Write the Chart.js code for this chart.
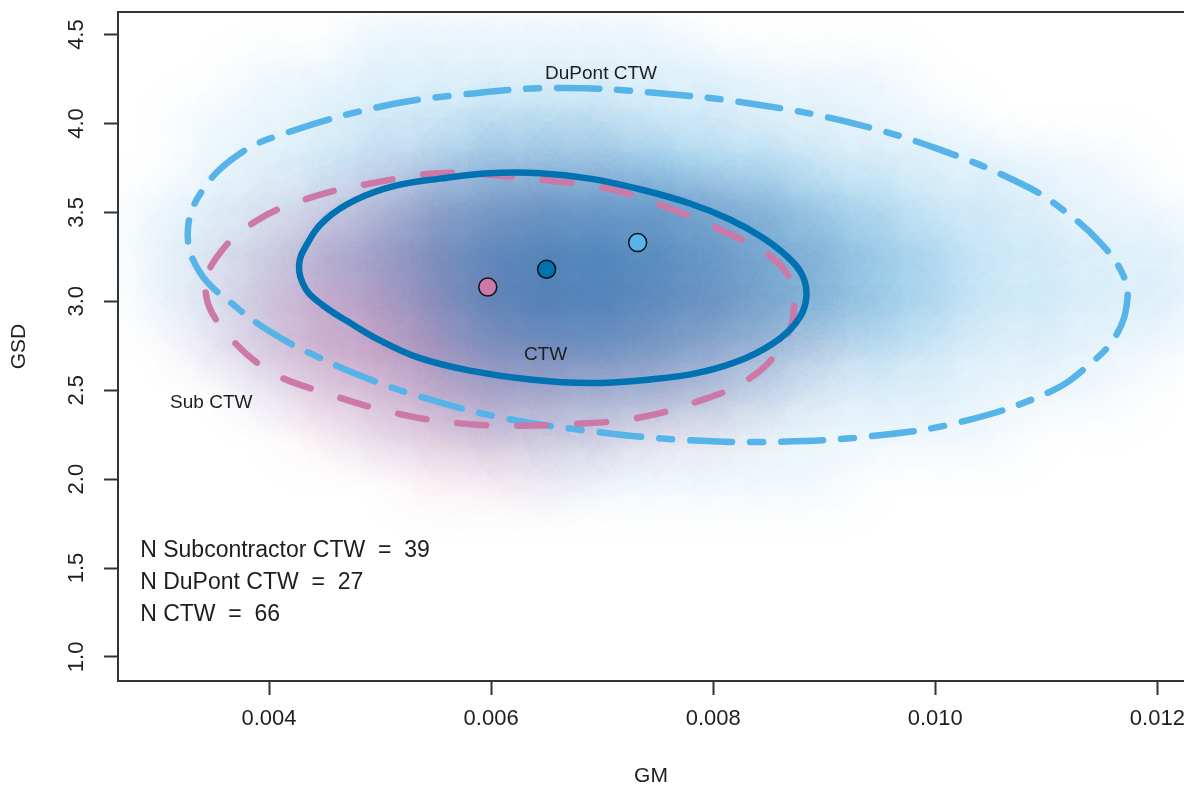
<!DOCTYPE html>
<html>
<head>
<meta charset="utf-8">
<script src="https://cdn.jsdelivr.net/npm/chart.js@4.4.1/dist/chart.umd.min.js"></script>
<style>
  html, body { margin: 0; padding: 0; background: #fff; }
  canvas { display: block; }
</style>
</head>
<body>
<canvas id="chart" width="1184" height="789"></canvas>
<script>
// axis ranges and ticks
const xRange = [0.00264, 0.01224];
const yRange = [0.8645, 4.627];
const xTicks = [0.004, 0.006, 0.008, 0.010, 0.012];
const yTicks = [1.0, 1.5, 2.0, 2.5, 3.0, 3.5, 4.0, 4.5];

// group centres (Sub, CTW, DuPont) and their labels
const centerGM = [0.00597, 0.00650, 0.00732];
const centerGSD = [3.08, 3.18, 3.33];
const labelText = ['Sub CTW', 'CTW', 'DuPont CTW'];
const labelGM = [0.00348, 0.00649, 0.00699];
const labelGSD = [2.43, 2.70, 4.28];

// sample sizes
const countNames = ['Subcontractor CTW', 'DuPont CTW', 'CTW'];
const countValues = [39, 27, 66];
const countGM = 0.00284;
const countGSD = [1.60, 1.42, 1.24];

// ellipse outlines
const subEllipse = [
  [0.00343, 3.05], [0.00358, 2.85], [0.00400, 2.61], [0.00453, 2.48], [0.00508, 2.38],
  [0.00562, 2.32], [0.00618, 2.30], [0.00673, 2.31], [0.00728, 2.34], [0.00783, 2.43],
  [0.00836, 2.58], [0.00866, 2.80], [0.00873, 3.00], [0.00867, 3.15], [0.00848, 3.27],
  [0.00814, 3.38], [0.00762, 3.52], [0.00708, 3.63], [0.00651, 3.68], [0.00600, 3.71],
  [0.00552, 3.72], [0.00498, 3.67], [0.00441, 3.59], [0.00388, 3.45], [0.00352, 3.24]
];
const ctwEllipse = [
  [0.00427, 3.20], [0.00433, 3.07], [0.00448, 2.98], [0.00470, 2.89], [0.00500, 2.78],
  [0.00536, 2.68], [0.00581, 2.61], [0.00635, 2.56], [0.00689, 2.54], [0.00743, 2.56],
  [0.00788, 2.60], [0.00829, 2.68], [0.00860, 2.79], [0.00878, 2.91], [0.00884, 3.03],
  [0.00880, 3.15], [0.00867, 3.25], [0.00844, 3.36], [0.00815, 3.46], [0.00779, 3.55],
  [0.00734, 3.63], [0.00689, 3.69], [0.00644, 3.72], [0.00599, 3.72], [0.00554, 3.69],
  [0.00514, 3.65], [0.00478, 3.57], [0.00451, 3.46], [0.00435, 3.33]
];
const dupontEllipse = [
  [0.00327, 3.41], [0.00337, 3.17], [0.00370, 2.97], [0.00406, 2.81], [0.00443, 2.69],
  [0.00483, 2.58], [0.00528, 2.48], [0.00606, 2.35], [0.00690, 2.27], [0.00774, 2.22],
  [0.00857, 2.21], [0.00940, 2.24], [0.01022, 2.32], [0.01103, 2.49], [0.01138, 2.64],
  [0.01163, 2.81], [0.01173, 3.01], [0.01169, 3.15], [0.01150, 3.32], [0.01118, 3.50],
  [0.01081, 3.65], [0.01001, 3.86], [0.00920, 4.01], [0.00836, 4.11], [0.00752, 4.17],
  [0.00660, 4.20], [0.00570, 4.16], [0.00497, 4.09], [0.00417, 3.95], [0.00376, 3.84],
  [0.00343, 3.65]
];

// density of the simulated point clouds (0-9), one digit per grid cell
const gridGM = [0.0030, 0.0035, 0.0040, 0.0045, 0.0050, 0.0055, 0.0060, 0.0065, 0.0070, 0.0075,
                0.0080, 0.0085, 0.0090, 0.0095, 0.0100, 0.0105, 0.0110, 0.0115, 0.0120, 0.0125];
const gridGSD = [4.50, 4.25, 4.00, 3.75, 3.50, 3.25, 3.00, 2.75, 2.50, 2.25, 2.00];
const dupontCloud = [
  '00001111110000000000',
  '00112222222111000000',
  '01123333333221100000',
  '01234455554433221100',
  '12234566665544332110',
  '12345677776554433221',
  '12345667766554433221',
  '01234455554433322110',
  '00112233333222211100',
  '00001111111111110000',
  '00000001111110000000'
];
const ctwCloud = [
  '00000000000000000000',
  '00000000000000000000',
  '00000011100000000000',
  '00000122221100000000',
  '00001345554321000000',
  '00012467765432100000',
  '00001367765432100000',
  '00000245543211000000',
  '00000122221100000000',
  '00000011100000000000',
  '00000000000000000000'
];
const subCloud = [
  '00000000000000000000',
  '00000000000000000000',
  '00000000000000000000',
  '00001111100000000000',
  '00123444332100000000',
  '01245666543210000000',
  '01356777654210000000',
  '01356766543210000000',
  '00134554332100000000',
  '00012332211000000000',
  '00000111000000000000'
];

const SUB = '#CC79A7';
const CTW = '#0072B2';
const DUP = '#56B4E9';
const FONT = "'Liberation Sans', Arial, sans-serif";
const INK = '#1e1e1e';

function cloudPoints(rows) {
  const pts = [];
  rows.forEach((row, r) => {
    for (let c = 0; c < row.length; c++) {
      const d = +row[c];
      if (d > 0) pts.push({x: gridGM[c], y: gridGSD[r], d: d});
    }
  });
  return pts;
}

// soft gaussian blob used as point style, sized from the grid step in pixels
const blobCache = {};
function blob(chart, hex, level, k) {
  const key = hex + level + '_' + k;
  if (blobCache[key]) return blobCache[key];
  const xs = chart.scales.x, ys = chart.scales.y;
  const sx = Math.abs(xs.getPixelForValue(gridGM[1]) - xs.getPixelForValue(gridGM[0]));
  const sy = Math.abs(ys.getPixelForValue(gridGSD[0]) - ys.getPixelForValue(gridGSD[1]));
  if (!isFinite(sx) || !isFinite(sy) || sx <= 0) return 'circle';
  const gx = 0.6 * sx, gy = 0.6 * sy;
  const R = 2.5 * gx;
  const c = document.createElement('canvas');
  c.width = Math.ceil(2 * R);
  c.height = Math.ceil(2 * 2.5 * gy);
  const g = c.getContext('2d');
  g.translate(c.width / 2, c.height / 2);
  g.scale(1, gy / gx);
  const grad = g.createRadialGradient(0, 0, 0, 0, 0, R);
  const peak = level * k / (2 * Math.PI * 0.36);
  const rgb = [1, 3, 5].map(i => parseInt(hex.slice(i, i + 2), 16));
  const tail = Math.exp(-3.125);
  for (let i = 0; i <= 10; i++) {
    const t = i / 10;
    const a = peak * (Math.exp(-0.5 * Math.pow(2.5 * t, 2)) - tail) / (1 - tail);
    grad.addColorStop(t, 'rgba(' + rgb.join(',') + ',' + Math.max(0, a).toFixed(4) + ')');
  }
  g.fillStyle = grad;
  g.fillRect(-R, -R, 2 * R, 2 * R);
  blobCache[key] = c;
  return c;
}

function cloudDataset(rows, hex, k, order) {
  return {
    data: cloudPoints(rows),
    pointStyle: ctx => (ctx.raw && ctx.raw.d) ? blob(ctx.chart, hex, ctx.raw.d, k) : 'circle',
    pointRadius: 45,
    pointHoverRadius: 45,
    pointBorderWidth: 0,
    clip: 0,
    order: order
  };
}

function ellipseDataset(pts, color, dash, order) {
  return {
    data: pts.map(p => ({x: p[0], y: p[1]})),
    showLine: true,
    closed: true,
    borderColor: color,
    borderWidth: 6.5,
    borderDash: dash,
    borderCapStyle: dash.length ? 'round' : 'butt',
    tension: 0.4,
    pointRadius: 0,
    pointHoverRadius: 0,
    fill: false,
    order: order
  };
}

// close the ellipse outlines into smooth loops
const closeLoops = {
  id: 'closeLoops',
  afterDatasetsUpdate(chart) {
    chart.data.datasets.forEach((ds, i) => {
      if (!ds.closed) return;
      const line = chart.getDatasetMeta(i).dataset;
      if (!line) return;
      line._loop = true;
      line._fullLoop = true;
      line._pointsUpdated = false;
      delete line._segments;
      line._path = undefined;
    });
  }
};

const annotations = {
  id: 'annotations',
  afterDraw(chart) {
    const {ctx, chartArea: a, scales: {x, y}} = chart;
    ctx.save();
    ctx.strokeStyle = '#333';
    ctx.lineWidth = 2;
    ctx.beginPath();
    ctx.moveTo(a.left - 1, a.top);
    ctx.lineTo(a.right, a.top);
    ctx.stroke();

    ctx.fillStyle = INK;
    ctx.font = '22px ' + FONT;
    ctx.textAlign = 'center';
    ctx.textBaseline = 'middle';
    yTicks.forEach(v => {
      ctx.save();
      ctx.translate(a.left - 41, y.getPixelForValue(v));
      ctx.rotate(-Math.PI / 2);
      ctx.fillText(v.toFixed(1), 0, 0);
      ctx.restore();
    });

    ctx.font = '19px ' + FONT;
    labelText.forEach((t, i) => {
      ctx.fillText(t, x.getPixelForValue(labelGM[i]), y.getPixelForValue(labelGSD[i]));
    });

    ctx.font = '23px ' + FONT;
    ctx.textAlign = 'left';
    countNames.forEach((n, i) => {
      ctx.fillText('N ' + n + '  =  ' + countValues[i], x.getPixelForValue(countGM), y.getPixelForValue(countGSD[i]));
    });
    ctx.restore();
  }
};

new Chart(document.getElementById('chart'), {
  type: 'scatter',
  data: {
    datasets: [
      {
        data: centerGM.map((v, i) => ({x: v, y: centerGSD[i]})),
        backgroundColor: [SUB, CTW, DUP],
        borderColor: '#111',
        borderWidth: 1.5,
        pointRadius: 9,
        pointHoverRadius: 9,
        order: 1
      },
      ellipseDataset(ctwEllipse, CTW, [], 3),
      ellipseDataset(subEllipse, SUB, [29, 31], 4),
      ellipseDataset(dupontEllipse, DUP, [13, 18, 42, 18], 5),
      cloudDataset(ctwCloud, CTW, 0.12, 8),
      cloudDataset(subCloud, SUB, 0.15, 9),
      cloudDataset(dupontCloud, DUP, 0.12, 10)
    ]
  },
  options: {
    responsive: false,
    animation: false,
    events: [],
    layout: {autoPadding: false, padding: {top: 12, left: 0, right: 0, bottom: 0}},
    plugins: {legend: {display: false}, tooltip: {enabled: false}},
    scales: {
      x: {
        type: 'linear',
        min: xRange[0],
        max: xRange[1],
        afterBuildTicks: s => { s.ticks = xTicks.map(value => ({value})); },
        afterFit: s => { s.height = 108; s.paddingLeft = 0; s.paddingRight = 0; },
        ticks: {
          callback: v => v.toFixed(3),
          font: {family: FONT, size: 22},
          color: INK,
          padding: 11,
          maxRotation: 0,
          autoSkip: false
        },
        grid: {drawOnChartArea: false, tickLength: 14, tickColor: '#333', tickWidth: 2},
        border: {color: '#333', width: 2},
        title: {display: true, text: 'GM', font: {family: FONT, size: 21}, color: INK, padding: {top: 0, bottom: 0}}
      },
      y: {
        type: 'linear',
        min: yRange[0],
        max: yRange[1],
        afterBuildTicks: s => { s.ticks = yTicks.map(value => ({value})); },
        afterFit: s => { s.width = 118; s.paddingTop = 0; s.paddingBottom = 0; },
        ticks: {display: false},
        grid: {drawOnChartArea: false, tickLength: 14, tickColor: '#333', tickWidth: 2},
        border: {color: '#333', width: 2},
        title: {display: true, text: 'GSD', font: {family: FONT, size: 21}, color: INK, padding: {top: 7, bottom: 0}}
      }
    }
  },
  plugins: [closeLoops, annotations]
});
</script>
</body>
</html>
